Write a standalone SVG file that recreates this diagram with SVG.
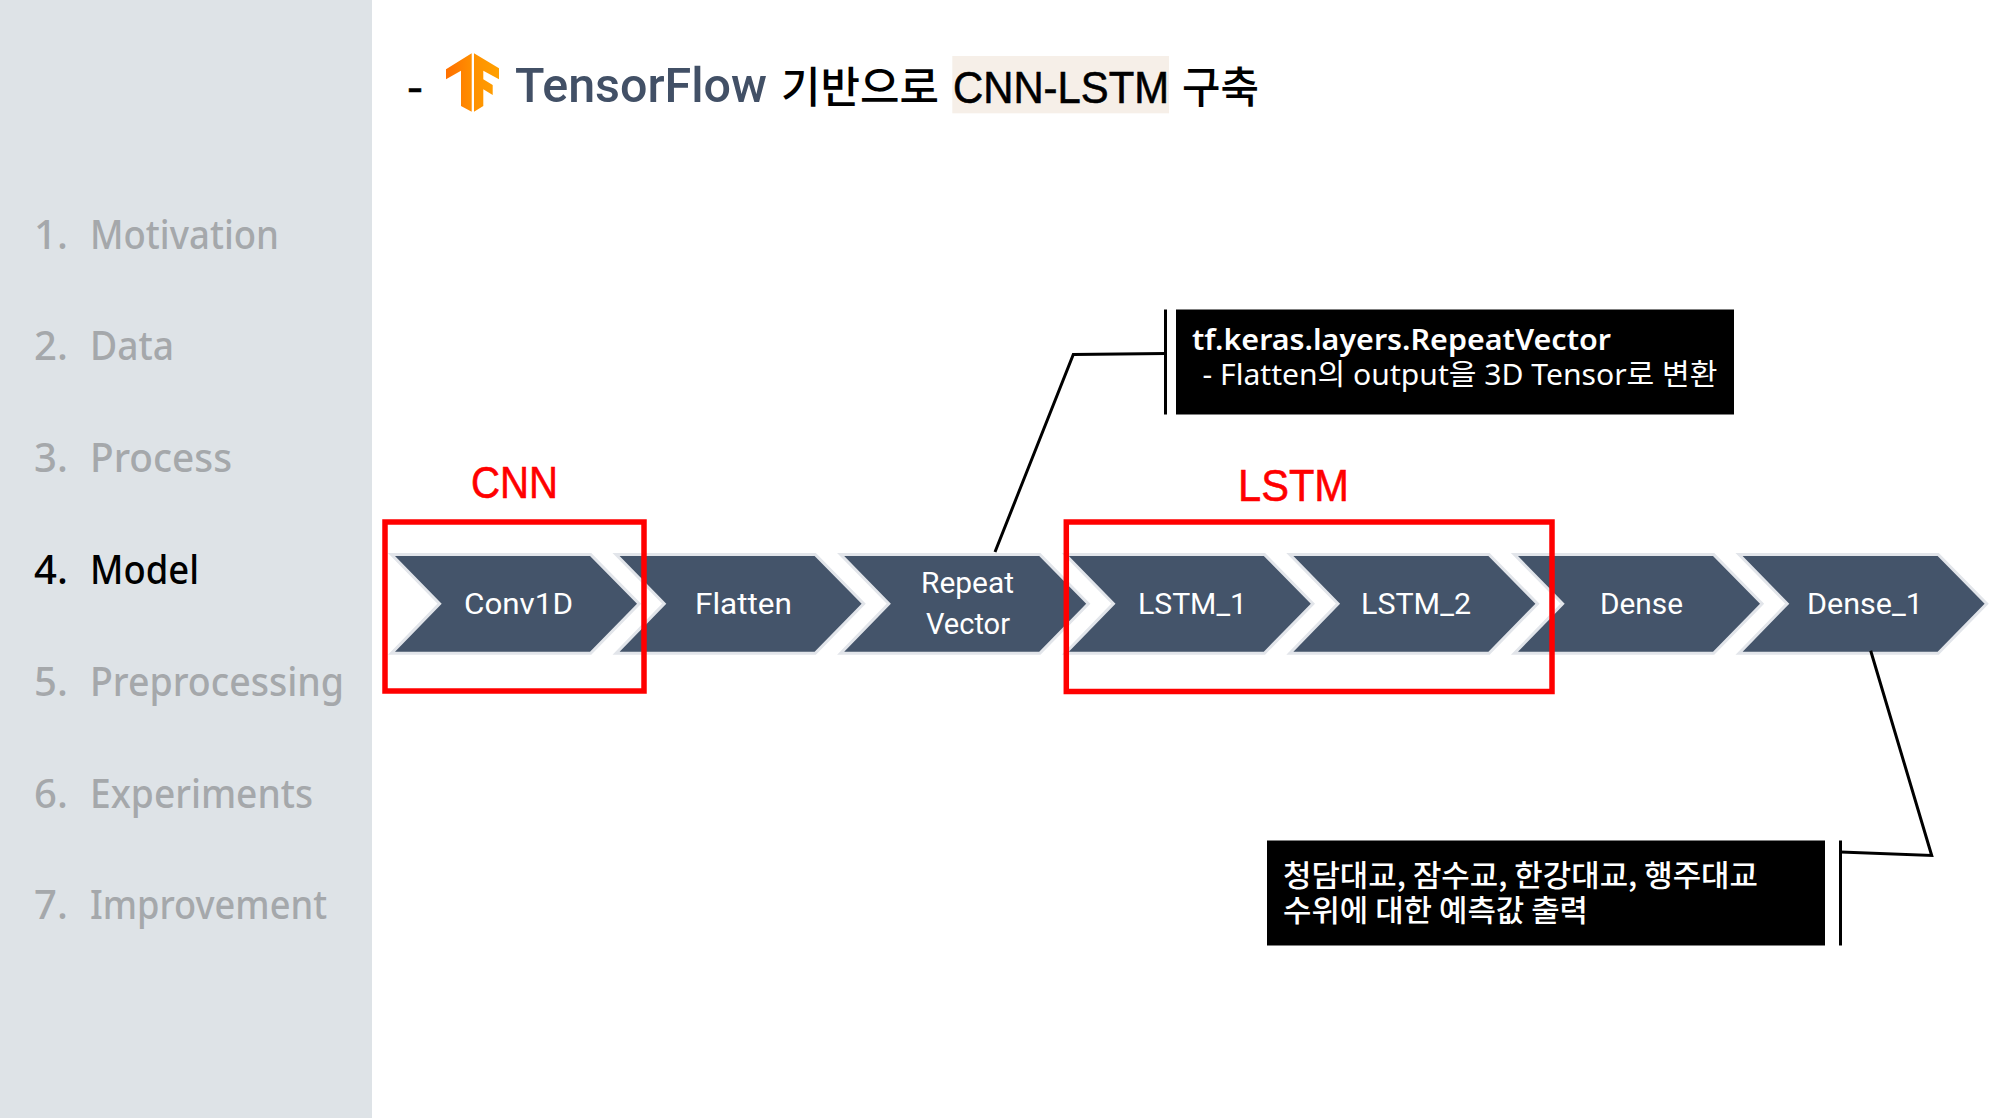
<svg xmlns="http://www.w3.org/2000/svg" width="2000" height="1118" viewBox="0 0 2000 1118">
<defs>
<style>
.side{font-family:"Noto Sans","Liberation Sans",sans-serif;font-size:40px;font-weight:500;fill:#a5a8ab}
.on{fill:#000}
.ttl{font-family:"Liberation Sans","Noto Sans CJK KR",sans-serif;font-size:44px;fill:#000;stroke:#000;stroke-width:.6}
.kr{font-family:"Noto Sans CJK KR","Noto Sans",sans-serif;font-size:43px;font-weight:500;fill:#000}
.lab{font-family:"Roboto","Noto Sans",sans-serif;font-size:30px;fill:#fff}
.red{font-family:"Liberation Sans",sans-serif;font-size:45px;fill:#f00;stroke:#f00;stroke-width:.6}
.box{fill:none;stroke:#f00;stroke-width:5.5}
.chev{fill:#44546a}
.halo{fill:none;stroke:#e2e5ea;stroke-width:6;stroke-linejoin:miter}
.lead{fill:none;stroke:#000;stroke-width:3}
.note{font-family:"Noto Sans","Noto Sans CJK KR",sans-serif;font-size:29px;fill:#fff}
.notek{font-family:"Noto Sans CJK KR","Noto Sans",sans-serif;font-size:30px;font-weight:500;fill:#fff}
</style>
<path id="chevron" d="M0 0H195L242 47.7L195 95.7H0L46.7 47.7Z"/>
<linearGradient id="tfl" x1="0" y1="0" x2="1" y2="0"><stop offset="0" stop-color="#ff6f00"/><stop offset="1" stop-color="#ff8f00"/></linearGradient>
<linearGradient id="tfr" x1="0" y1="0" x2="1" y2="0"><stop offset="0" stop-color="#ff9100"/><stop offset="1" stop-color="#ffa000"/></linearGradient>
</defs>
<rect width="2000" height="1118" fill="#fff"/>
<g id="sidebar">
<rect width="372" height="1118" fill="#dee3e7"/>
<text class="side" x="34" y="248.7">1.</text><text class="side" x="90" y="248.7" textLength="189" lengthAdjust="spacingAndGlyphs">Motivation</text>
<text class="side" x="34" y="360.4">2.</text><text class="side" x="90" y="360.4" textLength="84" lengthAdjust="spacingAndGlyphs">Data</text>
<text class="side" x="34" y="472">3.</text><text class="side" x="90" y="472" textLength="142" lengthAdjust="spacingAndGlyphs">Process</text>
<text class="side on" x="34" y="584.3">4.</text><text class="side on" x="90" y="584.3" textLength="109" lengthAdjust="spacingAndGlyphs">Model</text>
<text class="side" x="34" y="696.3">5.</text><text class="side" x="90" y="696.3" textLength="254" lengthAdjust="spacingAndGlyphs">Preprocessing</text>
<text class="side" x="34" y="808">6.</text><text class="side" x="90" y="808" textLength="223" lengthAdjust="spacingAndGlyphs">Experiments</text>
<text class="side" x="34" y="919.3">7.</text><text class="side" x="90" y="919.3" textLength="237" lengthAdjust="spacingAndGlyphs">Improvement</text>
</g>
<g id="title">
<text class="ttl" x="407" y="102" textLength="16" lengthAdjust="spacingAndGlyphs">-</text>
<g id="tf-logo">
<polygon fill="url(#tfl)" points="471.7,53.3 446,69.3 446,79.3 461,70.7 461,106 471.7,111.7"/>
<polygon fill="url(#tfr)" points="474,53.3 499,68.3 499,79.3 483.3,70.7 483.3,79.3 492.7,85 492.7,95 483.3,89.3 483.3,106 474,111.7"/>
</g>
<text x="515" y="101.7" font-family="Roboto,'Noto Sans',sans-serif" font-weight="500" font-size="48" fill="#425066" textLength="252" lengthAdjust="spacingAndGlyphs">TensorFlow</text>
<text class="kr" x="781" y="103" textLength="158" lengthAdjust="spacingAndGlyphs">기반으로</text>
<rect x="952.3" y="56" width="216.7" height="57.3" fill="#f6efe8"/>
<text class="ttl" x="953" y="103.3" textLength="216" lengthAdjust="spacingAndGlyphs">CNN-LSTM</text>
<text class="kr" x="1182" y="103" textLength="77" lengthAdjust="spacingAndGlyphs">구축</text>
</g>
<g id="chain">
<g id="n-conv1d"><use href="#chevron" class="halo" x="395" y="556"/><use href="#chevron" class="chev" x="395" y="556"/><text class="lab" x="464" y="613.5" textLength="109" lengthAdjust="spacingAndGlyphs">Conv1D</text></g>
<g id="n-flatten"><use href="#chevron" class="halo" x="619.6" y="556"/><use href="#chevron" class="chev" x="619.6" y="556"/><text class="lab" x="695" y="613.5" textLength="97" lengthAdjust="spacingAndGlyphs">Flatten</text></g>
<g id="n-repeat"><use href="#chevron" class="halo" x="844.2" y="556"/><use href="#chevron" class="chev" x="844.2" y="556"/><text class="lab" x="921" y="592.5" textLength="93" lengthAdjust="spacingAndGlyphs">Repeat</text><text class="lab" x="926" y="634" textLength="84" lengthAdjust="spacingAndGlyphs">Vector</text></g>
<g id="n-lstm1"><use href="#chevron" class="halo" x="1068.8" y="556"/><use href="#chevron" class="chev" x="1068.8" y="556"/><text class="lab" x="1138" y="613.5" textLength="109" lengthAdjust="spacingAndGlyphs">LSTM_1</text></g>
<g id="n-lstm2"><use href="#chevron" class="halo" x="1293.4" y="556"/><use href="#chevron" class="chev" x="1293.4" y="556"/><text class="lab" x="1361" y="613.5" textLength="110" lengthAdjust="spacingAndGlyphs">LSTM_2</text></g>
<g id="n-dense"><use href="#chevron" class="halo" x="1518" y="556"/><use href="#chevron" class="chev" x="1518" y="556"/><text class="lab" x="1600" y="613.5" textLength="83" lengthAdjust="spacingAndGlyphs">Dense</text></g>
<g id="n-dense1"><use href="#chevron" class="halo" x="1742.6" y="556"/><use href="#chevron" class="chev" x="1742.6" y="556"/><text class="lab" x="1807" y="613.5" textLength="116" lengthAdjust="spacingAndGlyphs">Dense_1</text></g>
</g>
<g id="cnn-group">
<rect class="box" x="385" y="522" width="259" height="169"/>
<text class="red" x="471" y="498.3" textLength="87" lengthAdjust="spacingAndGlyphs">CNN</text>
</g>
<g id="lstm-group">
<rect class="box" x="1066.3" y="522" width="485.7" height="169.5"/>
<text class="red" x="1238" y="500.7" textLength="111" lengthAdjust="spacingAndGlyphs">LSTM</text>
</g>
<g id="connectors">
<path class="lead" d="M1165.5 353.5L1073.3 354.5L995 552"/>
<path class="lead" d="M1165.5 309.5V414.5"/>
<path class="lead" d="M1870.7 650.7L1931.7 855.5L1840.5 852"/>
<path class="lead" d="M1840.5 840.5V945.5"/>
</g>
<g id="note-repeat">
<rect x="1176" y="309.5" width="558" height="105" fill="#000"/>
<text class="note" x="1192" y="349.8" font-weight="600" textLength="419" lengthAdjust="spacingAndGlyphs">tf.keras.layers.RepeatVector</text>
<text class="note" x="1202.5" y="384.8" textLength="515" lengthAdjust="spacingAndGlyphs">- Flatten의 output을 3D Tensor로 변환</text>
</g>
<g id="note-output">
<rect x="1267" y="840.5" width="558" height="105" fill="#000"/>
<text class="notek" x="1283" y="886" textLength="475" lengthAdjust="spacingAndGlyphs">청담대교, 잠수교, 한강대교, 행주대교</text>
<text class="notek" x="1283" y="921" textLength="305" lengthAdjust="spacingAndGlyphs">수위에 대한 예측값 출력</text>
</g>
</svg>
